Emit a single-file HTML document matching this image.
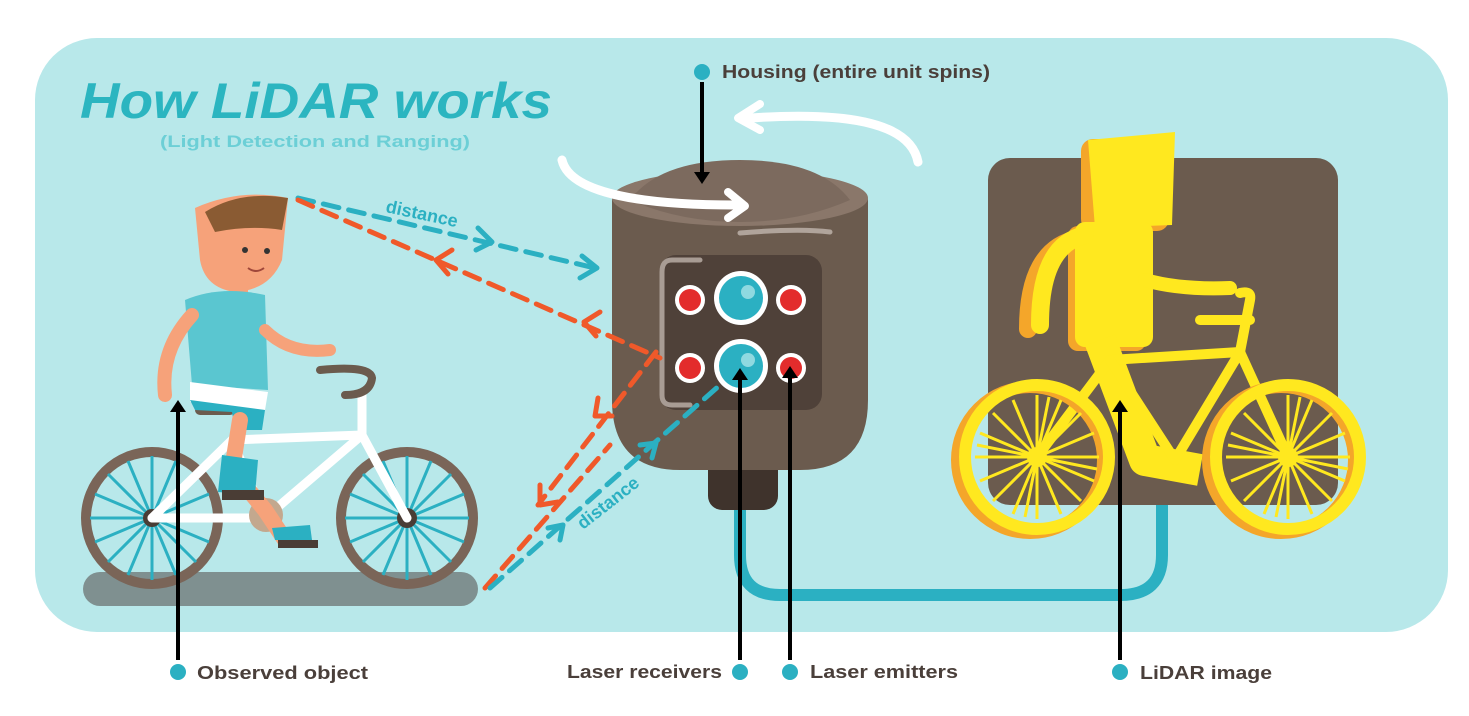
<!DOCTYPE html>
<html><head><meta charset="utf-8"><style>
html,body{margin:0;padding:0;background:#fff;}
svg{display:block;font-family:"Liberation Sans",sans-serif;}
</style></head><body>
<svg width="1469" height="716" viewBox="0 0 1469 716" xmlns="http://www.w3.org/2000/svg">
<defs>
<g id="spokesB">
<g stroke="#2bb0c2" stroke-width="3">
<line x1="-62" y1="0" x2="62" y2="0"/><line x1="0" y1="-62" x2="0" y2="62"/>
<line x1="-44" y1="-44" x2="44" y2="44"/><line x1="-44" y1="44" x2="44" y2="-44"/>
<line x1="-57" y1="-24" x2="57" y2="24"/><line x1="-57" y1="24" x2="57" y2="-24"/>
<line x1="-24" y1="-57" x2="24" y2="57"/><line x1="-24" y1="57" x2="24" y2="-57"/>
</g></g>
<g id="spokesY">
<g stroke="#ffe81f" stroke-width="3">
<line x1="-62" y1="0" x2="62" y2="0"/><line x1="0" y1="-62" x2="0" y2="62"/>
<line x1="-44" y1="-44" x2="44" y2="44"/><line x1="-44" y1="44" x2="44" y2="-44"/>
<line x1="-57" y1="-24" x2="57" y2="24"/><line x1="-57" y1="24" x2="57" y2="-24"/>
<line x1="-24" y1="-57" x2="24" y2="57"/><line x1="-24" y1="57" x2="24" y2="-57"/>
<line x1="-60" y1="-12" x2="60" y2="12"/><line x1="-12" y1="60" x2="12" y2="-60"/>
</g></g>
</defs>
<rect x="35" y="38" width="1413" height="594" rx="62" fill="#b8e8ea"/>
<text x="80" y="118" font-size="50" font-weight="bold" font-style="italic" fill="#2bb5c0" textLength="472" lengthAdjust="spacingAndGlyphs">How LiDAR works</text>
<text x="160" y="147" font-size="17" font-weight="bold" fill="#6ccfd6" textLength="310" lengthAdjust="spacingAndGlyphs">(Light Detection and Ranging)</text>

<!-- housing label -->
<circle cx="702" cy="72" r="8" fill="#2bb0c2"/>
<text x="722" y="78" font-size="18" font-weight="bold" fill="#4a3f3a" textLength="268" lengthAdjust="spacingAndGlyphs">Housing (entire unit spins)</text>
<!-- back spin arrow -->
<path d="M918 162 C910 120 840 112 750 118" stroke="#fff" stroke-width="9" fill="none" stroke-linecap="round"/>
<path d="M760 104 L738 118 L760 130" stroke="#fff" stroke-width="8" fill="none" stroke-linecap="round" stroke-linejoin="round"/>

<!-- cable -->
<path d="M740 500 V555 Q740 595 780 595 H1120 Q1162 595 1162 555 V500" stroke="#2bb0c2" stroke-width="12" fill="none"/>

<!-- device -->
<rect x="708" y="440" width="70" height="70" rx="14" fill="#3f332c"/>
<path d="M612 200 Q612 178 740 172 Q868 178 868 200 V400 Q868 470 800 470 H680 Q612 470 612 400 Z" fill="#6b5b4e"/>
<ellipse cx="740" cy="198" rx="128" ry="28" fill="#8a776a"/>
<path d="M630 200 Q660 160 740 160 Q820 160 850 200 Q800 222 740 222 Q680 222 630 200Z" fill="#7c6a5e"/>
<path d="M740 233 Q800 228 830 232" stroke="#b0a49b" stroke-width="5" fill="none" stroke-linecap="round"/>
<rect x="660" y="255" width="162" height="155" rx="16" fill="#4f4139"/>
<path d="M700 260 H672 Q662 260 662 272 V395 Q662 405 672 405 H690" stroke="#a89c94" stroke-width="5" fill="none" stroke-linecap="round"/>
<g>
<circle cx="690" cy="300" r="15" fill="#fff"/><circle cx="690" cy="300" r="11" fill="#e32c2c"/>
<circle cx="791" cy="300" r="15" fill="#fff"/><circle cx="791" cy="300" r="11" fill="#e32c2c"/>
<circle cx="690" cy="368" r="15" fill="#fff"/><circle cx="690" cy="368" r="11" fill="#e32c2c"/>
<circle cx="791" cy="368" r="15" fill="#fff"/><circle cx="791" cy="368" r="11" fill="#e32c2c"/>
<circle cx="741" cy="298" r="27" fill="#fff"/><circle cx="741" cy="298" r="22" fill="#2bb0c2"/><circle cx="748" cy="292" r="7" fill="#8fd9e0"/>
<circle cx="741" cy="366" r="27" fill="#fff"/><circle cx="741" cy="366" r="22" fill="#2bb0c2"/><circle cx="748" cy="360" r="7" fill="#8fd9e0"/>
</g>
<!-- front spin arrow -->
<path d="M562 160 C570 195 650 205 735 205" stroke="#fff" stroke-width="9" fill="none" stroke-linecap="round"/>
<path d="M728 192 L745 206 L728 218" stroke="#fff" stroke-width="8" fill="none" stroke-linecap="round" stroke-linejoin="round"/>

<!-- lidar image -->
<rect x="988" y="158" width="350" height="347" rx="22" fill="#6b5b4e"/>
<g fill="#f4a62a" transform="translate(-7,4)">
<rect x="1088" y="135" width="88" height="92" rx="12"/>
<rect x="1075" y="222" width="78" height="125" rx="10"/>
<path d="M1085 235 Q1035 245 1035 325" stroke="#f4a62a" stroke-width="18" fill="none" stroke-linecap="round"/>
</g>
<g fill="#ffe81f">
<path d="M1088 140 L1175 132 L1172 225 L1095 228 Z"/>
<rect x="1075" y="222" width="78" height="125" rx="10"/>
<path d="M1085 235 Q1040 245 1040 325" stroke="#ffe81f" stroke-width="18" fill="none" stroke-linecap="round"/>
<path d="M1145 280 Q1180 290 1230 288" stroke="#ffe81f" stroke-width="14" fill="none" stroke-linecap="round"/>
<path d="M1100 340 L1145 460 L1200 470" stroke="#ffe81f" stroke-width="32" fill="none" stroke-linejoin="round"/>
</g>
<g stroke="#ffe81f" stroke-width="10" fill="none" stroke-linecap="round" stroke-linejoin="round">
<path d="M1037 457 L1110 360 L1240 352 L1288 457"/>
<path d="M1110 360 L1175 460 L1240 352"/>
<path d="M1240 352 L1250 300 Q1252 290 1240 293"/>
<path d="M1200 320 H1250"/>
</g>
<circle cx="1030" cy="460" r="73" fill="none" stroke="#f4a62a" stroke-width="12"/>
<circle cx="1037" cy="457" r="72" fill="none" stroke="#ffe81f" stroke-width="12"/>
<use href="#spokesY" x="1037" y="457"/>
<circle cx="1281" cy="460" r="73" fill="none" stroke="#f4a62a" stroke-width="12"/>
<circle cx="1288" cy="457" r="72" fill="none" stroke="#ffe81f" stroke-width="12"/>
<use href="#spokesY" x="1288" y="457"/>
<circle cx="1037" cy="457" r="10" fill="#ffe81f"/><circle cx="1288" cy="457" r="10" fill="#ffe81f"/>

<!-- cyclist -->
<rect x="83" y="572" width="395" height="34" rx="17" fill="#7f9090"/>
<circle cx="152" cy="518" r="66" fill="none" stroke="#7a6558" stroke-width="10"/>
<use href="#spokesB" x="152" y="518"/>
<circle cx="407" cy="518" r="66" fill="none" stroke="#7a6558" stroke-width="10"/>
<use href="#spokesB" x="407" y="518"/>
<circle cx="407" cy="518" r="10" fill="#4a3d35"/><circle cx="152" cy="518" r="9" fill="#4a3d35"/>
<g stroke="#fff" stroke-width="9" fill="none" stroke-linecap="round" stroke-linejoin="round">
<path d="M152 518 L232 440 L362 435 L407 518"/>
<path d="M152 518 L265 518 L362 435"/>
<path d="M232 440 L265 518"/>
<path d="M362 435 L362 395"/>
</g>
<path d="M320 370 Q370 365 372 378 Q370 395 345 395" stroke="#6b5b4e" stroke-width="8" fill="none" stroke-linecap="round"/>
<circle cx="266" cy="515" r="17" fill="#c3a88e"/>
<rect x="195" y="405" width="40" height="10" rx="5" fill="#6b5b4e"/>
<path d="M195 208 Q240 188 288 198 L282 260 Q270 290 235 292 Q205 288 200 260 Z" fill="#f6a27a"/>
<path d="M205 212 Q240 190 288 198 L282 230 Q250 225 215 232 Z" fill="#8a5b33"/>
<circle cx="245" cy="250" r="3" fill="#333"/><circle cx="267" cy="251" r="3" fill="#333"/>
<path d="M248 268 Q256 274 264 268" stroke="#a0473a" stroke-width="2" fill="none"/>
<rect x="232" y="280" width="16" height="20" fill="#f6a27a"/>
<path d="M185 300 Q220 285 265 295 L268 390 L192 385 Z" fill="#5ac6d0"/>
<path d="M190 382 L268 392 L265 410 L190 402 Z" fill="#fff"/>
<path d="M190 400 L265 410 L262 430 L235 430 L232 412 L195 410Z" fill="#2bb0c2"/>
<path d="M192 315 Q160 350 165 395" stroke="#f6a27a" stroke-width="14" fill="none" stroke-linecap="round"/>
<path d="M265 330 Q290 355 330 350" stroke="#f6a27a" stroke-width="12" fill="none" stroke-linecap="round"/>
<path d="M240 420 L232 470 L265 510 L285 540" stroke="#f6a27a" stroke-width="16" fill="none" stroke-linecap="round"/>
<path d="M222 455 L258 460 L255 495 L218 492Z" fill="#2bb0c2"/>
<rect x="222" y="490" width="42" height="10" fill="#4a3d35"/>
<path d="M272 528 L310 525 L312 540 L275 540Z" fill="#2bb0c2"/>
<rect x="278" y="540" width="40" height="8" fill="#4a3d35"/>

<!-- dashed lines -->
<g fill="none" stroke-width="5" stroke-dasharray="16 10" stroke-linecap="round">
<path d="M298 198 L595 268" stroke="#2bb0c2"/>
<path d="M298 200 L660 358" stroke="#f0592a"/>
<path d="M656 352 L538 505" stroke="#f0592a"/>
<path d="M485 588 L610 445" stroke="#f0592a"/>
<path d="M490 588 L720 385" stroke="#2bb0c2"/>
</g>
<g fill="none" stroke-width="5" stroke-linecap="round" stroke-linejoin="round">
<path d="M478 228 L492 242 L476 250" stroke="#2bb0c2"/>
<path d="M582 256 L597 268 L580 278" stroke="#2bb0c2"/>
<path d="M452 250 L436 260 L448 274" stroke="#f0592a"/>
<path d="M600 312 L584 322 L596 336" stroke="#f0592a"/>
<path d="M598 398 L595 416 L612 416" stroke="#f0592a"/>
<path d="M540 485 L540 505 L558 502" stroke="#f0592a"/>
<path d="M548 528 L563 525 L560 540" stroke="#2bb0c2"/>
<path d="M640 445 L656 443 L652 458" stroke="#2bb0c2"/>
</g>
<text x="385" y="212" font-size="18" font-weight="bold" fill="#2bb0c2" transform="rotate(12 385 212)">distance</text>
<text x="583" y="530" font-size="18" font-weight="bold" fill="#2bb0c2" transform="rotate(-38 583 530)">distance</text>

<!-- pointers -->
<g stroke="#000" stroke-width="4" fill="none">
<line x1="702" y1="82" x2="702" y2="178"/>
<line x1="178" y1="410" x2="178" y2="660"/>
<line x1="740" y1="378" x2="740" y2="660"/>
<line x1="790" y1="375" x2="790" y2="660"/>
<line x1="1120" y1="410" x2="1120" y2="660"/>
</g>
<g fill="#000">
<path d="M694 172 L702 184 L710 172Z"/>
<path d="M170 412 L178 400 L186 412Z"/>
<path d="M732 380 L740 368 L748 380Z"/>
<path d="M782 378 L790 366 L798 378Z"/>
<path d="M1112 412 L1120 400 L1128 412Z"/>
</g>
<g fill="#2bb0c2">
<circle cx="178" cy="672" r="8"/><circle cx="740" cy="672" r="8"/><circle cx="790" cy="672" r="8"/><circle cx="1120" cy="672" r="8"/>
</g>
<g font-size="18" font-weight="bold" fill="#4a3f3a">
<text x="197" y="679" textLength="171" lengthAdjust="spacingAndGlyphs">Observed object</text>
<text x="567" y="678" textLength="155" lengthAdjust="spacingAndGlyphs">Laser receivers</text>
<text x="810" y="678" textLength="148" lengthAdjust="spacingAndGlyphs">Laser emitters</text>
<text x="1140" y="679" textLength="132" lengthAdjust="spacingAndGlyphs">LiDAR image</text>
</g>
</svg>
</body></html>
